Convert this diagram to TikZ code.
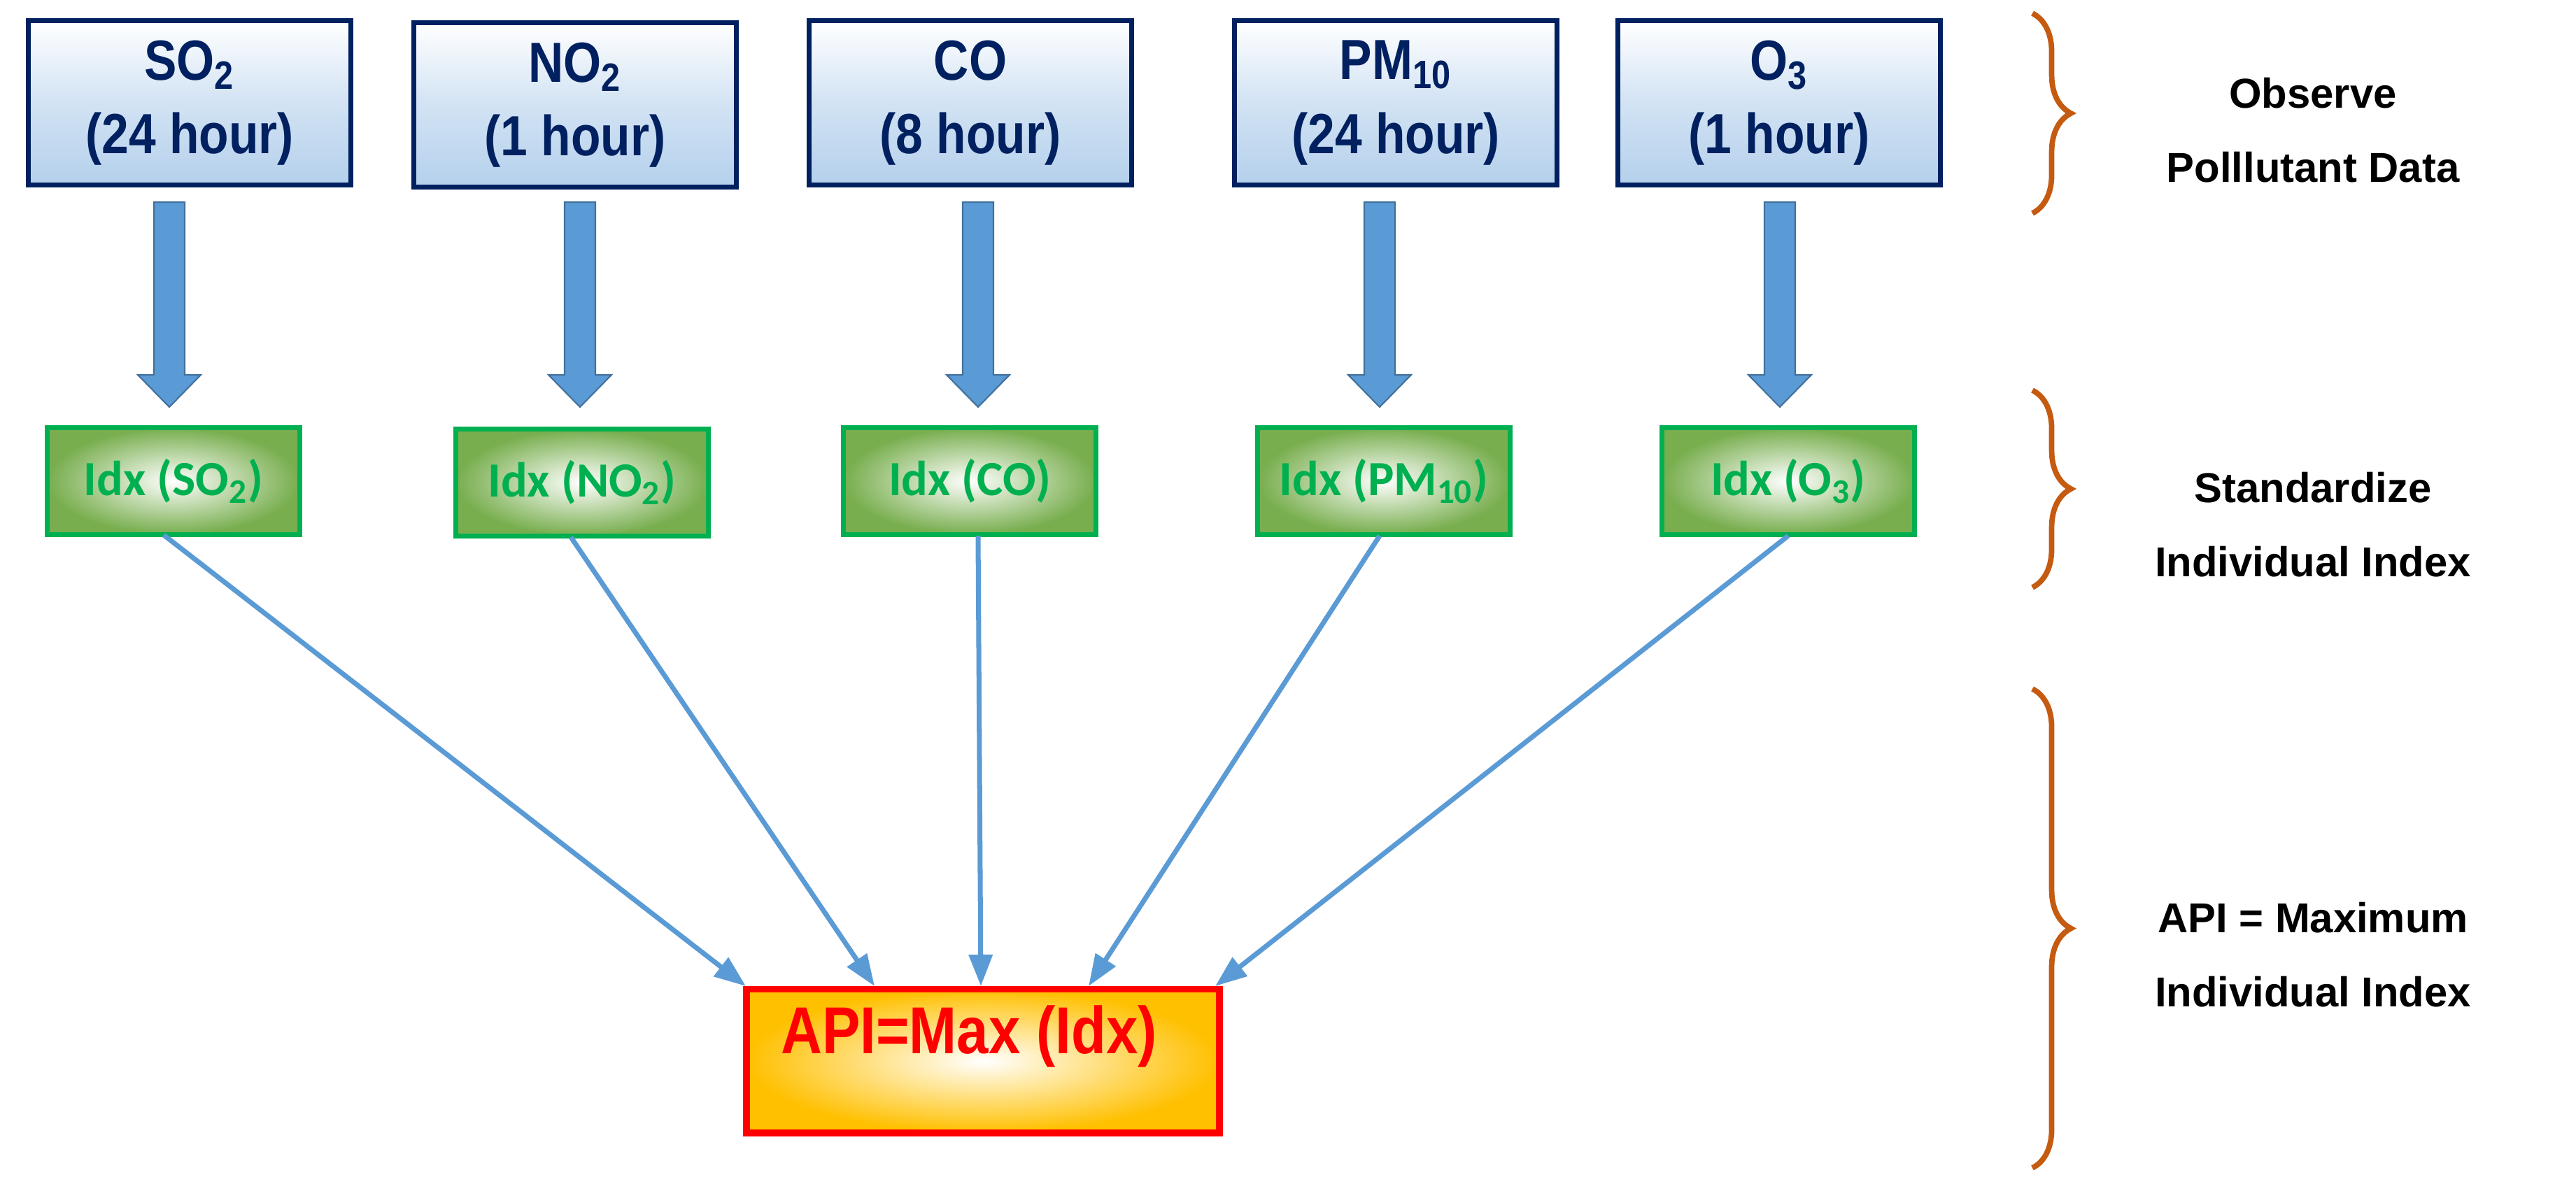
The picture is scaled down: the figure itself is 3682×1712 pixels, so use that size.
\documentclass[tikz,border=0pt]{standalone}
\usepackage{fontspec}
\setmainfont{Liberation Sans}
\newfontfamily\narrowf[FakeStretch=0.86]{Liberation Sans}
\newfontfamily\calf{Carlito}
\usetikzlibrary{arrows.meta,decorations.pathreplacing}
\definecolor{navy}{HTML}{002060}
\definecolor{lblue}{HTML}{B4D0EC}
\definecolor{ablue}{HTML}{5B9BD5}
\definecolor{dblue}{HTML}{41719C}
\definecolor{gbord}{HTML}{00B050}
\definecolor{gfill}{HTML}{78AE4E}
\definecolor{orng}{HTML}{FFC000}
\definecolor{brace}{HTML}{C55A11}
\begin{document}
\begin{tikzpicture}[x=0.01cm,y=-0.01cm,
 top/.style={draw=navy,line width=2pt,top color=white,bottom color=lblue,middle color=lblue!60,minimum width=4.6cm,minimum height=2.35cm,align=center,text=navy,font=\narrowf\bfseries\fontsize{23}{30}\selectfont},
 idx/.style={draw=gbord,line width=2pt,shading=radial,inner color=white,outer color=gfill,minimum width=3.6cm,minimum height=1.52cm,text=gbord,font=\calf\bfseries\fontsize{20}{24}\selectfont},
 blk/.style={fill=ablue,draw=dblue,line width=0.6pt},
 thin/.style={draw=ablue,line width=2pt,-{Triangle[length=0.45cm,width=0.33cm]}},
 br/.style={draw=brace,line width=2.2pt,decorate,decoration={brace,amplitude=0.55cm}},
 lab/.style={align=center,font=\bfseries\fontsize{17}{30}\selectfont}]
\useasboundingbox (0,0) rectangle (3682,1712);
\node[top] (t1) at (271,147) {SO\textsubscript{2}\\(24 hour)};
\node[top] (t2) at (822,150) {NO\textsubscript{2}\\(1 hour)};
\node[top] (t3) at (1387,147) {CO\\(8 hour)};
\node[top] (t4) at (1995,147) {PM\textsubscript{10}\\(24 hour)};
\node[top] (t5) at (2543,147) {O\textsubscript{3}\\(1 hour)};
\node[idx] (i1) at (248,688) {Idx (SO\textsubscript{2})};
\node[idx] (i2) at (832,690) {Idx (NO\textsubscript{2})};
\node[idx] (i3) at (1386,688) {Idx (CO)};
\node[idx] (i4) at (1978,688) {Idx (PM\textsubscript{10})};
\node[idx] (i5) at (2556,688) {Idx (O\textsubscript{3})};
\foreach \x [count=\i] in {242,829,1398,1972,2544}{
  \coordinate (b\i) at (\x,289);
  \draw[blk] ([xshift=-0.22cm]b\i) -- ++(0,247) -- ++(-23,0) -- ++(45,46)
     -- ++(45,-46) -- ++(-23,0) -- ++(0,-247) -- cycle;
}
\node[draw=red,line width=2.8pt,shading=radial,inner color=white,outer color=orng,minimum width=6.75cm,minimum height=2.05cm] (api) at (1405,1517) {};
\node[text=red,font=\narrowf\bfseries\fontsize{27}{30}\selectfont] (apit) at (1385,1482) {API=Max (Idx)};
\coordinate (e1) at (1066,1410); \coordinate (e2) at (1250,1410);
\coordinate (e3) at (1402,1410); \coordinate (e4) at (1556,1410);
\coordinate (e5) at (1737,1410);
\draw[thin] (234,765) -- (e1);
\draw[thin] (816,768) -- (e2);
\draw[thin] (1398,766) -- (e3);
\draw[thin] (1972,766) -- (e4);
\draw[thin] (2556,766) -- (e5);
\draw[br] (2905,19) -- (2905,305);
\draw[br] (2905,558) -- (2905,840);
\draw[br] (2905,985) -- (2905,1670);
\node[lab] (l1) at (3306,186) {Observe\\Polllutant Data};
\node[lab] (l2) at (3306,750) {Standardize\\Individual Index};
\node[lab] (l3) at (3306,1365) {API = Maximum\\Individual Index};
\end{tikzpicture}
\end{document}
